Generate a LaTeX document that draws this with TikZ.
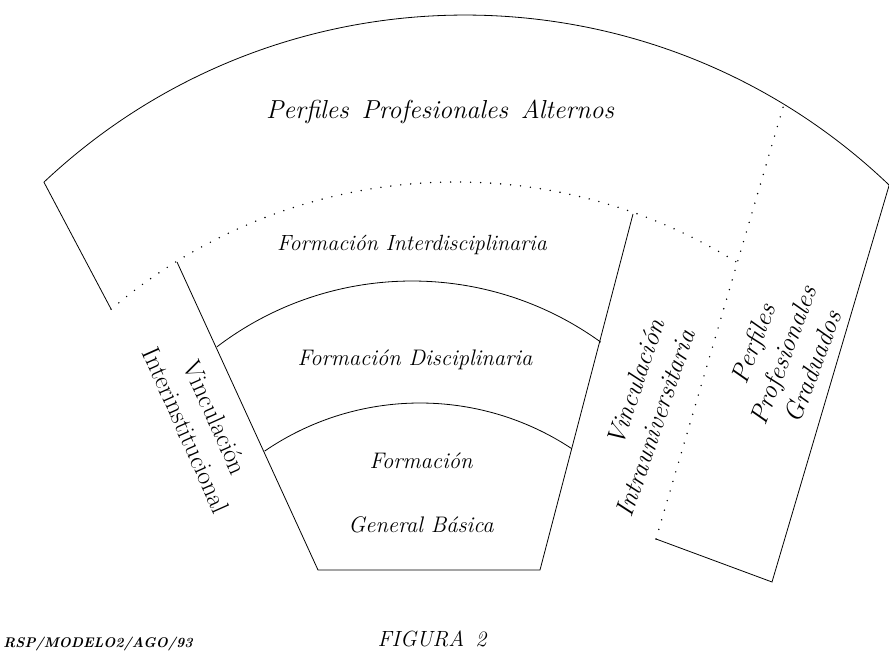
\documentclass[tikz,border=0pt]{standalone}
\usepackage{fontspec}
\usetikzlibrary{calc}
\begin{document}
\begin{tikzpicture}[x=1pt,y=1pt]
            \tikzstyle{every node}+=[inner sep=0pt]
            \tikzstyle{line}=[black, line width=0.8pt]
            \tikzstyle{dots}=[black, line width=1.6pt, line cap=round, dash pattern=on 0pt off 10pt]
            \tikzstyle{band}=[font=\fontsize{22.5}{26}\selectfont\itshape]
            \tikzstyle{side}=[font=\fontsize{26}{32}\selectfont\itshape, align=center]
            \useasboundingbox (0,0) rectangle (889,658);
            \coordinate (oc) at (465,29);
            \coordinate (dc) at (456,-55);
            \coordinate (c1) at (412,55);
            \coordinate (c2) at (420,-20);
            \coordinate (oL) at ($(oc)+(133.3:614)$);
            \coordinate (dL) at ($(dc)+(130.5:531)$);
            \coordinate (gT) at (784,554);
            \coordinate (gB) at (656,119);
            \coordinate (gC) at (772,76);
            \coordinate (iTL) at (177,396);
            \coordinate (iTR) at (633,444);
            \coordinate (iBL) at (318,88);
            \coordinate (iBR) at (540,88);
            \coordinate (a1L) at ($(c1)+(127.3:322)$);
            \coordinate (a2L) at ($(c2)+(124.4:275)$);
            \draw [line] (dL) -- (oL) arc[start angle=133.3, end angle=46.3, radius=614] -- (gC) -- (gB);
            \draw [dots] (gB) -- (gT);
            \draw [dots] (dL) arc[start angle=130.5, end angle=58, radius=531];
            \draw [line] (iTL) -- (iBL) -- (iBR) -- (iTR);
            \draw [line] (a1L) arc[start angle=127.3, end angle=54.1, radius=322];
            \draw [line] (a2L) arc[start angle=124.4, end angle=56.5, radius=275];
            \node [band, font=\fontsize{26}{30}\selectfont\itshape] (alternos) at (440,546) {Perfiles\enspace Profesionales\enspace Alternos};
            \node [band, font=\fontsize{22}{26}\selectfont\itshape] (interdis) at (412,413) {Formación Interdisciplinaria};
            \node [band] (discip) at (415,298) {Formación Disciplinaria};
            \node [band] (formacion) at (421,197) {Formación};
            \node [band] (basica) at (421,133) {General Básica};
            \node [side, font=\fontsize{26}{32}\selectfont, rotate=-66] (interinst) at (201,234) {Vinculación\\Interinstitucional};
            \node [side, align=right, rotate=71] (intrauniv) at (640,240) {Vinculación\\Intrauniversitaria};
            \node [side, rotate=69] (graduados) at (783,303) {Perfiles\\Profesionales\\Graduados};
            \node [font=\fontsize{22}{26}\selectfont\itshape] (figura) at (432,19) {FIGURA\enspace 2};
            \node [font=\fontsize{14}{16}\selectfont\bfseries\itshape] (ref) at (98,14) {RSP/MODELO2/AGO/93};
\end{tikzpicture}
\end{document}
